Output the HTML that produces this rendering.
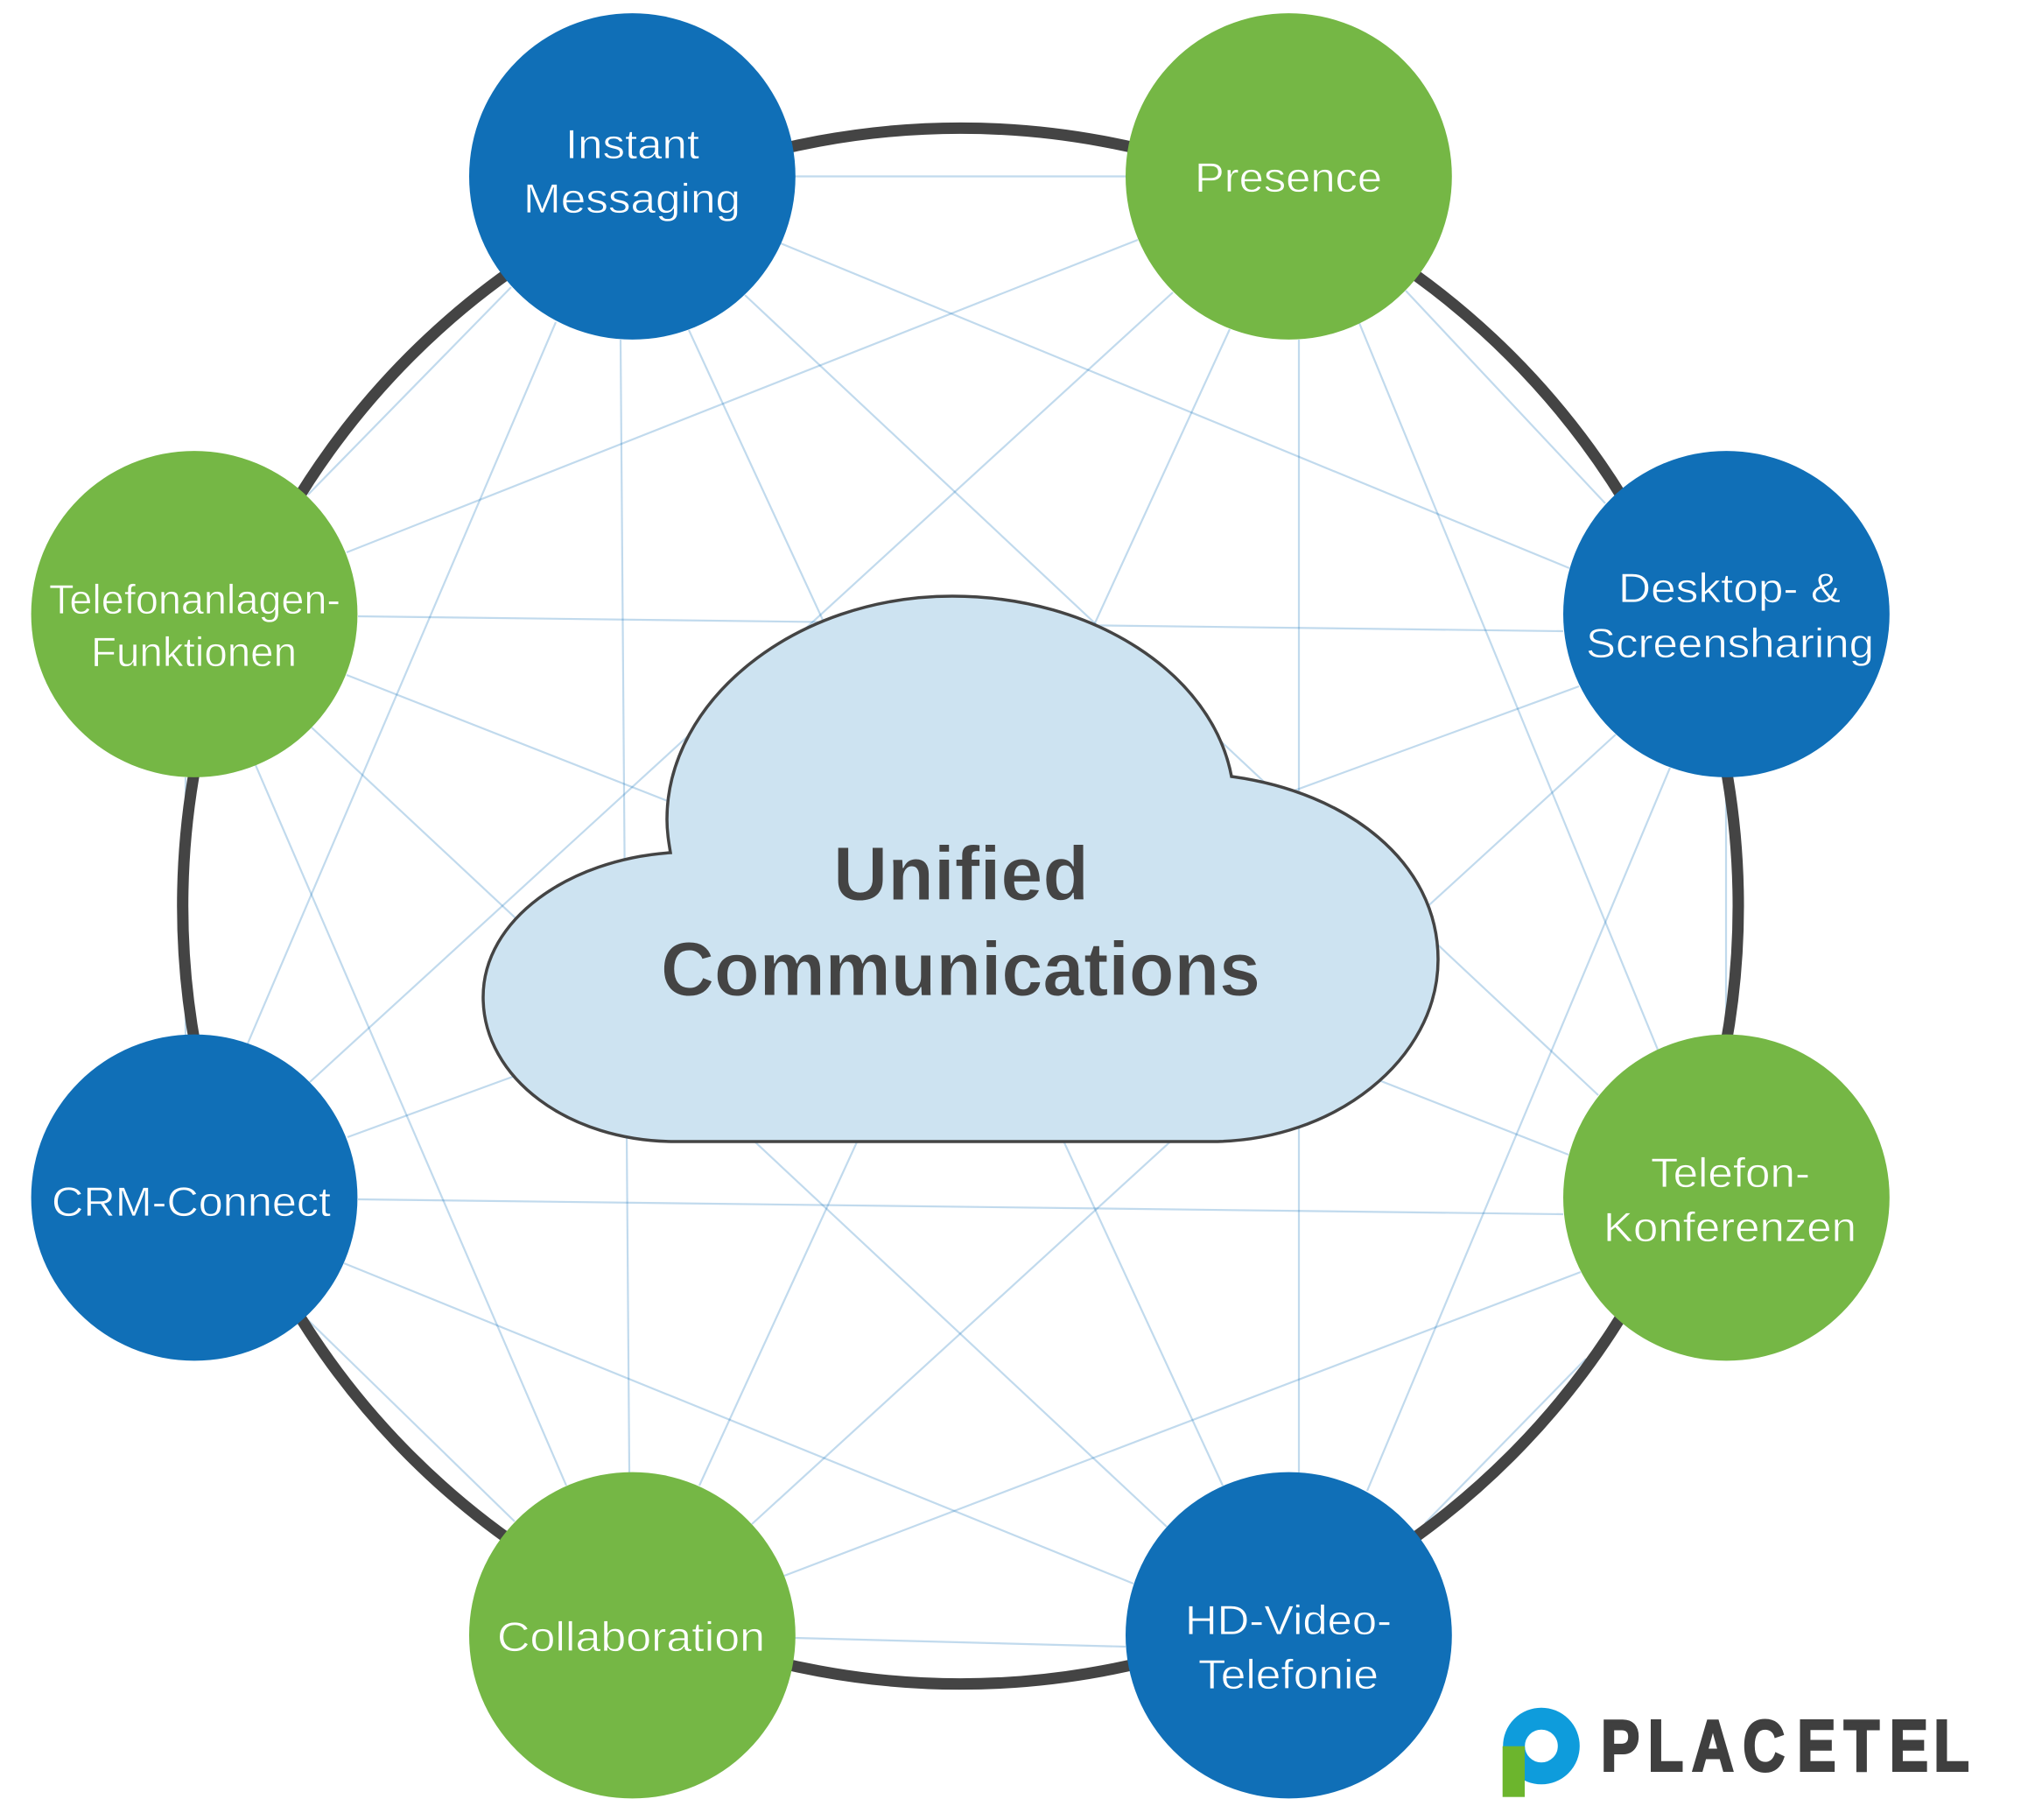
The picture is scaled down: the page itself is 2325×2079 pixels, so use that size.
<!DOCTYPE html>
<html lang="de">
<head>
<meta charset="utf-8">
<title>Unified Communications</title>
<style>
html,body{margin:0;padding:0;background:#fff;}
svg{display:block;}
text{font-family:"Liberation Sans",sans-serif;}
.n{fill:#fff;font-size:47px;stroke-width:.7px;}
.b{stroke:#106fb7;}
.g{stroke:#75b745;}
.c{fill:#444;font-size:87px;font-weight:700;stroke:#cde3f1;stroke-width:.9px;}
</style>
</head>
<body>
<svg xmlns="http://www.w3.org/2000/svg" width="2325" height="2079" viewBox="0 0 2325 2079">
<rect width="2325" height="2079" fill="#fff"/>
<g stroke="#1170b8" stroke-opacity="0.26" stroke-width="2.2" fill="none">
<line x1="908" y1="201.5" x2="1286" y2="201.5"/>
<line x1="892" y1="278" x2="1793" y2="649"/>
<line x1="851" y1="337" x2="1826" y2="1251"/>
<line x1="787" y1="377" x2="1397" y2="1697"/>
<line x1="709" y1="388" x2="719" y2="1682"/>
<line x1="635" y1="368" x2="283" y2="1192"/>
<line x1="584" y1="328" x2="352" y2="565"/>
<line x1="1606" y1="332" x2="1834" y2="575"/>
<line x1="1553" y1="369" x2="1894" y2="1199"/>
<line x1="1484" y1="388" x2="1484" y2="1682"/>
<line x1="1405" y1="376" x2="799" y2="1697"/>
<line x1="1340" y1="334" x2="354" y2="1236"/>
<line x1="1300" y1="274" x2="396" y2="631"/>
<line x1="1972" y1="888" x2="1972" y2="1182"/>
<line x1="1908" y1="877" x2="1562" y2="1703"/>
<line x1="1846" y1="839" x2="859" y2="1741"/>
<line x1="1804" y1="784" x2="397" y2="1299"/>
<line x1="1786" y1="721" x2="409" y2="704"/>
<line x1="1812" y1="1552" x2="1628" y2="1740"/>
<line x1="1806" y1="1453" x2="896" y2="1800"/>
<line x1="1786" y1="1387" x2="409" y2="1370"/>
<line x1="1792" y1="1319" x2="396" y2="771"/>
<line x1="1286" y1="1881" x2="908" y2="1871"/>
<line x1="1295" y1="1809" x2="393" y2="1443"/>
<line x1="1333" y1="1744" x2="356" y2="831"/>
<line x1="588" y1="1738" x2="352" y2="1508"/>
<line x1="647" y1="1697" x2="292" y2="874"/>
<line x1="212" y1="888" x2="212" y2="1182"/>
</g>
<circle cx="1097.35" cy="1035" r="888.65" fill="none" stroke="#444" stroke-width="13"/>
<circle cx="722.4" cy="201.5" r="186.4" fill="#106fb7"/>
<circle cx="1472.4" cy="201.5" r="186.4" fill="#75b745"/>
<circle cx="1972.4" cy="701.5" r="186.4" fill="#106fb7"/>
<circle cx="1972.4" cy="1368" r="186.4" fill="#75b745"/>
<circle cx="1472.4" cy="1868" r="186.4" fill="#106fb7"/>
<circle cx="722.4" cy="1868" r="186.4" fill="#75b745"/>
<circle cx="222" cy="1368" r="186.4" fill="#106fb7"/>
<circle cx="222" cy="701.5" r="186.4" fill="#75b745"/>
<path d="M766 974 C650 982 552 1050 552 1139 C552 1232 650 1304 772 1304 L1384 1304 C1525 1304 1643 1210 1643 1096 C1643 985 1540 905 1407 887 C1385 770 1250 681 1088 681 C908 681 762 800 762 936 C762 950 764 962 766 974 Z" fill="#cde3f1" stroke="#444" stroke-width="3.5" stroke-linejoin="miter"/>
<text class="c" x="952" y="1028" textLength="292" lengthAdjust="spacingAndGlyphs">Unified</text>
<text class="c" x="755" y="1137" textLength="685" lengthAdjust="spacingAndGlyphs">Communications</text>
<g>
<text class="n b" x="646" y="181" textLength="153" lengthAdjust="spacingAndGlyphs">Instant</text>
<text class="n b" x="598" y="243" textLength="248" lengthAdjust="spacingAndGlyphs">Messaging</text>
<text class="n g" x="1365" y="219" textLength="214" lengthAdjust="spacingAndGlyphs">Presence</text>
<text class="n b" x="1849" y="688" textLength="254" lengthAdjust="spacingAndGlyphs">Desktop- &amp;</text>
<text class="n b" x="1812" y="751" textLength="329" lengthAdjust="spacingAndGlyphs">Screensharing</text>
<text class="n g" x="1886" y="1356" textLength="182" lengthAdjust="spacingAndGlyphs">Telefon-</text>
<text class="n g" x="1832" y="1418" textLength="289" lengthAdjust="spacingAndGlyphs">Konferenzen</text>
<text class="n b" x="1354" y="1867" textLength="236" lengthAdjust="spacingAndGlyphs">HD-Video-</text>
<text class="n b" x="1369" y="1929" textLength="206" lengthAdjust="spacingAndGlyphs">Telefonie</text>
<text class="n g" x="568" y="1886" textLength="306" lengthAdjust="spacingAndGlyphs">Collaboration</text>
<text class="n b" x="59" y="1389" textLength="319" lengthAdjust="spacingAndGlyphs">CRM-Connect</text>
<text class="n g" x="56" y="701" textLength="333" lengthAdjust="spacingAndGlyphs">Telefonanlagen-</text>
<text class="n g" x="104" y="761" textLength="235" lengthAdjust="spacingAndGlyphs">Funktionen</text>
</g>
<circle cx="1761" cy="1994.5" r="31.3" fill="none" stroke="#0e9cdc" stroke-width="25"/>
<rect x="1716.7" y="1994.7" width="25.3" height="58" fill="#6cb52d"/>
<text transform="scale(0.8 1)" x="2286.25 2353.5 2416.25 2489.1 2566.5 2633.25 2698.5 2761.5" y="2022.5" font-size="83" font-weight="700" fill="#3f3f3f" stroke="#3f3f3f" stroke-width="3">PLACETEL</text>
</svg>
</body>
</html>
